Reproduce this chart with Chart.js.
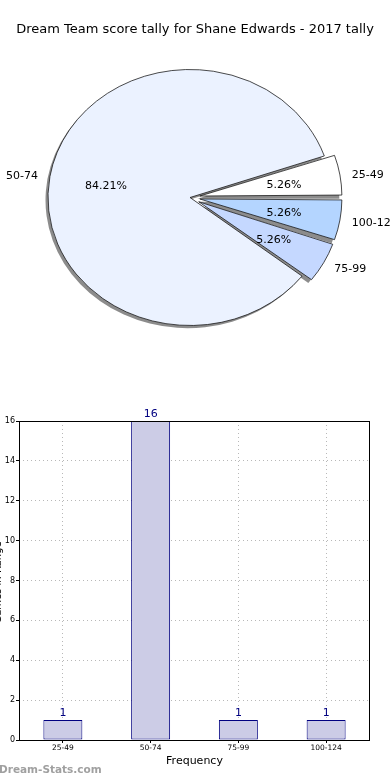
<!DOCTYPE html>
<html>
<head>
<meta charset="utf-8">
<script src="https://cdn.jsdelivr.net/npm/chart.js@4/dist/chart.umd.min.js"></script>
<style>
  body { margin: 0; background: #fff; }
  canvas { display: block; }
</style>
</head>
<body>
<canvas id="pie" width="390" height="390"></canvas>
<canvas id="bars" width="390" height="390"></canvas>
<script>
// score bins and how many games fell in each
const scoreBins = ["25-49", "50-74", "75-99", "100-124"];
const gameCounts = [1, 16, 1, 1];
const yTicks = [0, 2, 4, 6, 8, 10, 12, 14, 16];

const chartTitle = "Dream Team score tally for Shane Edwards - 2017 tally";
const xAxisTitle = "Frequency";
const yAxisTitle = "Games in Range";
const watermark = "Dream-Stats.com";

const binColors = {
  "25-49": "#ffffff",
  "50-74": "#ebf2ff",
  "75-99": "#c5d8ff",
  "100-124": "#b4d5ff",
};
const explodedBins = ["25-49", "75-99", "100-124"];

Chart.defaults.font.family = "'DejaVu Sans', sans-serif";
Chart.defaults.color = "#000";
Chart.defaults.animation = false;

// matplotlib lays the wedges out counter-clockwise from 3 o'clock,
// chart.js goes clockwise, so the pie gets the bins reversed
const pieLabels = scoreBins.slice().reverse();
const pieValues = gameCounts.slice().reverse();

const PIE_R = 142;
const SQUASH = 128 / 142;
const EXPLODE = 40; // chart.js moves the arc by offset / 4

function arcGeom(arc) {
  const mid = (arc.startAngle + arc.endAngle) / 2;
  const t = (arc.options.offset || 0) / 4;
  return { mid: mid, cx: arc.x + Math.cos(mid) * t, cy: arc.y + Math.sin(mid) * t };
}

const ellipsePlugin = {
  id: "ellipse",
  afterDatasetsUpdate(chart) {
    // keep exploded wedges at the same radius as the big one
    chart.getDatasetMeta(0).data.forEach((arc) => {
      const off = (arc.options.offset || 0) / 4;
      const fix = 1 - Math.sin(Math.min(Math.PI, arc.endAngle - arc.startAngle));
      arc.outerRadius = PIE_R - off * fix;
    });
  },
  beforeDatasetsDraw(chart) {
    const ctx = chart.ctx;
    const arcs = chart.getDatasetMeta(0).data;
    const cx = arcs[0].x, cy = arcs[0].y;
    ctx.save();
    ctx.translate(cx, cy);
    ctx.scale(1, SQUASH);
    ctx.translate(-cx, -cy);
    // shadows
    ctx.fillStyle = "rgba(0,0,0,0.45)";
    arcs.forEach((arc) => {
      const g = arcGeom(arc);
      ctx.beginPath();
      ctx.moveTo(g.cx - 2.5, g.cy + 3);
      ctx.arc(g.cx - 2.5, g.cy + 3, PIE_R, arc.startAngle, arc.endAngle);
      ctx.closePath();
      ctx.fill();
    });
  },
  afterDatasetsDraw(chart) {
    const ctx = chart.ctx;
    ctx.restore();
    const arcs = chart.getDatasetMeta(0).data;
    const total = pieValues.reduce((a, b) => a + b, 0);
    ctx.save();
    ctx.font = "11px 'DejaVu Sans'";
    ctx.fillStyle = "#000";
    ctx.textBaseline = "middle";
    arcs.forEach((arc, i) => {
      const g = arcGeom(arc);
      const toY = (y) => arc.y + (y - arc.y) * SQUASH;
      const lx = g.cx + Math.cos(g.mid) * PIE_R * 1.085;
      const ly = toY(g.cy + Math.sin(g.mid) * PIE_R * 1.085) + 1.5;
      ctx.textAlign = lx > arc.x ? "left" : "right";
      ctx.fillText(pieLabels[i], lx, ly);
      const px = g.cx + Math.cos(g.mid) * PIE_R * 0.6;
      const py = toY(g.cy + Math.sin(g.mid) * PIE_R * 0.6) + 1.5;
      ctx.textAlign = "center";
      ctx.fillText(((pieValues[i] / total) * 100).toFixed(2) + "%", px, py);
    });
    // title, centred on the page rather than on the pie
    ctx.font = "13px 'DejaVu Sans'";
    ctx.textAlign = "center";
    ctx.fillText(chartTitle, 195, 30);
    ctx.restore();
  },
};

new Chart(document.getElementById("pie"), {
  type: "pie",
  data: {
    labels: pieLabels,
    datasets: [
      {
        data: pieValues,
        backgroundColor: pieLabels.map((b) => binColors[b]),
        borderColor: "#111",
        borderWidth: 0.8,
        offset: pieLabels.map((b) => (explodedBins.includes(b) ? EXPLODE : 0)),
        radius: PIE_R,
        clip: false,
      },
    ],
  },
  options: {
    responsive: false,
    rotation: 90,
    layout: { padding: { left: 0, right: 10, top: 37, bottom: 32 } },
    plugins: {
      legend: { display: false },
      tooltip: { enabled: false },
    },
  },
  plugins: [ellipsePlugin],
});

const barExtras = {
  id: "barExtras",
  afterDatasetsDraw(chart) {
    const ctx = chart.ctx;
    ctx.save();
    ctx.font = "11px 'DejaVu Sans'";
    ctx.fillStyle = "#000080";
    ctx.textAlign = "center";
    ctx.textBaseline = "alphabetic";
    chart.getDatasetMeta(0).data.forEach((bar, i) => {
      ctx.fillText(String(gameCounts[i]), bar.x, bar.y - 4);
    });
    ctx.restore();
  },
  afterDraw(chart) {
    const ctx = chart.ctx;
    const a = chart.chartArea;
    ctx.save();
    ctx.strokeStyle = "#000";
    ctx.lineWidth = 1;
    ctx.strokeRect(a.left + 0.5, a.top + 0.5, a.right - a.left - 1, a.bottom - a.top);
    // y axis title, mostly off the left edge like the original
    ctx.font = "10px 'DejaVu Sans'";
    ctx.fillStyle = "#000";
    ctx.translate(3.5, (a.top + a.bottom) / 2 + 2);
    ctx.rotate(-Math.PI / 2);
    ctx.textAlign = "center";
    ctx.textBaseline = "bottom";
    ctx.fillText(yAxisTitle, 0, 0);
    ctx.restore();
    ctx.save();
    ctx.font = "bold 10.5px 'DejaVu Sans'";
    ctx.fillStyle = "#a0a0a0";
    ctx.textAlign = "left";
    ctx.textBaseline = "middle";
    ctx.fillText(watermark, -1, 380);
    ctx.restore();
  },
};

new Chart(document.getElementById("bars"), {
  type: "bar",
  data: {
    labels: scoreBins,
    datasets: [
      {
        data: gameCounts,
        backgroundColor: "#cccce6",
        borderColor: "#000080",
        borderWidth: 1,
        borderSkipped: false,
        barPercentage: 0.444,
        categoryPercentage: 1,
      },
    ],
  },
  options: {
    responsive: false,
    layout: { padding: { left: 0, right: 20, top: 31, bottom: 0 } },
    plugins: {
      legend: { display: false },
      tooltip: { enabled: false },
    },
    scales: {
      x: {
        grid: {
          offset: false,
          color: "#b8b8b8",
          tickColor: "#000",
          tickLength: 3,
        },
        border: { display: false, dash: [1, 3] },
        ticks: { font: { size: 7.5 }, color: "#000", padding: 1, maxRotation: 0 },
        title: {
          display: true,
          text: xAxisTitle,
          font: { size: 11 },
          color: "#000",
          padding: { top: 0, bottom: 12 },
        },
        afterFit: (s) => { s.height = 40; },
      },
      y: {
        min: yTicks[0],
        max: yTicks[yTicks.length - 1],
        afterBuildTicks: (s) => { s.ticks = yTicks.map((v) => ({ value: v })); },
        grid: { color: "#b8b8b8", tickColor: "#000", tickLength: 3 },
        border: { display: false, dash: [1, 3] },
        ticks: { font: { size: 8 }, color: "#000", padding: 1 },
        afterFit: (s) => { s.width = 19; },
      },
    },
  },
  plugins: [barExtras],
});
</script>
</body>
</html>
